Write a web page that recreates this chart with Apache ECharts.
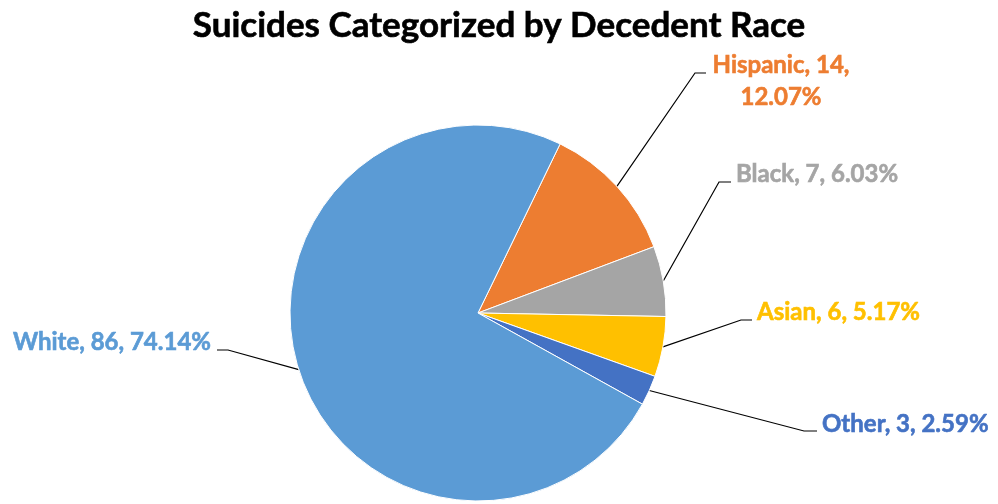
<!DOCTYPE html>
<html>
<head>
<meta charset="utf-8">
<script src="https://cdn.jsdelivr.net/npm/echarts@6/dist/echarts.min.js"></script>
<style>
  html, body { margin: 0; padding: 0; background: #fff; }
  #chart { width: 998px; height: 504px; }
</style>
</head>
<body>
<div id="chart"></div>
<script>
// Suicide counts by decedent race
const races = ['Hispanic', 'Black', 'Asian', 'Other', 'White'];
const counts = [14, 7, 6, 3, 86];
const sliceColors = ['#ED7D31', '#A5A5A5', '#FFC000', '#4472C4', '#5B9BD5'];

// Callout placement: where each label sits and where its leader line bends
const callouts = [
  { x: 781, y: 81,  align: 'center', elbow: [695, 73],  end: [706, 73] },
  { x: 736, y: 174, align: 'left',   elbow: [719, 182], end: [731, 182] },
  { x: 757, y: 312, align: 'left',   elbow: [741, 320], end: [752, 320] },
  { x: 822, y: 424, align: 'left',   elbow: [804, 431], end: [817, 431] },
  { x: 211, y: 342, align: 'right',  elbow: [228, 350], end: [217, 350] }
];

const FONT = 'Lato, "Open Sans", sans-serif';
const chart = echarts.init(document.getElementById('chart'), null, { renderer: 'canvas' });

chart.setOption({
  backgroundColor: '#ffffff',
  animation: false,
  title: {
    text: 'Suicides Categorized by Decedent Race',
    left: 'center',
    top: 3,
    textStyle: {
      fontFamily: FONT, fontWeight: 'bold', fontSize: 35, color: '#000',
      textBorderColor: '#000', textBorderWidth: 0.6
    }
  },
  series: [{
    type: 'pie',
    center: [478, 313],
    radius: 188,
    startAngle: 64.1,
    clockwise: true,
    avoidLabelOverlap: false,
    itemStyle: { borderColor: '#ffffff', borderWidth: 1 },
    label: {
      show: true,
      position: 'outside',
      fontFamily: FONT,
      fontWeight: 'bold',
      fontSize: 24,
      lineHeight: 32,
      formatter: function (p) {
        if (p.name === 'Hispanic') return p.name + ', ' + p.value + ',\n' + p.percent.toFixed(2) + '%';
        return p.name + ', ' + p.value + ', ' + p.percent.toFixed(2) + '%';
      }
    },
    labelLine: { show: true, lineStyle: { color: '#000', width: 1.2 } },
    labelLayout: function (p) {
      const c = callouts[p.dataIndex];
      const anchor = p.labelLinePoints ? p.labelLinePoints[0] : null;
      const out = { x: c.x, y: c.y, align: c.align, verticalAlign: 'middle' };
      if (anchor) out.labelLinePoints = [anchor, c.elbow, c.end];
      return out;
    },
    data: races.map((r, i) => ({
      name: r,
      value: counts[i],
      itemStyle: { color: sliceColors[i] },
      label: {
        color: sliceColors[i], align: callouts[i].align,
        textBorderColor: sliceColors[i], textBorderWidth: 0.6
      }
    }))
  }]
});
</script>
</body>
</html>
